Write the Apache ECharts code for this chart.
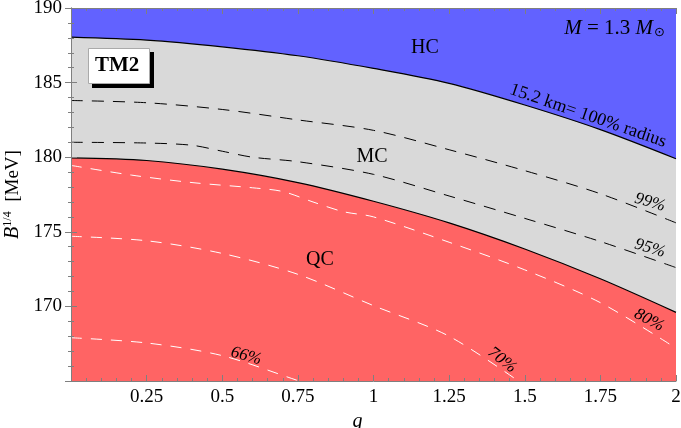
<!DOCTYPE html>
<html><head><meta charset="utf-8">
<script src="https://cdn.jsdelivr.net/npm/echarts@6/dist/echarts.min.js"></script>
<style>html,body{margin:0;padding:0;background:#fff}#c{width:681px;height:428px}</style>
</head><body><div id="c"></div>
<script>
// ---- data ----
const gTicks = [0.25, 0.5, 0.75, 1, 1.25, 1.5, 1.75, 2];
const bTicks = [170, 175, 180, 185, 190];

const hcBoundaryG = [0, 0.25, 0.5, 0.75, 1, 1.25, 1.5, 1.75, 2];
const hcBoundaryB = [188.05, 187.85, 187.4, 186.8, 185.95, 184.95, 183.5, 181.85, 179.9];

const qcBoundaryG = [0, 0.25, 0.5, 0.75, 1, 1.25, 1.5, 1.75, 2];
const qcBoundaryB = [179.95, 179.78, 179.2, 178.3, 177.05, 175.6, 173.85, 171.85, 169.6];

const c99G = [0, 0.25, 0.5, 0.75, 1, 1.25, 1.5, 1.75, 2];
const c99B = [183.8, 183.65, 183.2, 182.5, 181.8, 180.5, 179.1, 177.55, 175.6];

const c95G = [0, 0.25, 0.4, 0.5, 0.6, 0.75, 1, 1.25, 1.5, 1.75, 2];
const c95B = [181.0, 180.95, 180.8, 180.4, 180.0, 179.7, 178.85, 177.4, 175.9, 174.35, 172.6];

const c80G = [0, 0.2, 0.4, 0.6, 0.7, 0.8, 0.9, 1, 1.25, 1.5, 1.75, 2];
const c80B = [179.45, 178.8, 178.3, 177.95, 177.7, 177.0, 176.35, 176.0, 174.3, 172.45, 170.25, 167.2];

const c70G = [0, 0.25, 0.5, 0.75, 1, 1.25, 1.5];
const c70B = [174.7, 174.4, 173.55, 172.15, 170.05, 168.0, 164.7];

const c66G = [0, 0.25, 0.5, 0.75, 0.8];
const c66B = [167.9, 167.55, 166.7, 165.03, 164.7];

// annotation texts and their anchor positions (data coords) + rotation
const noteText = ['HC', 'MC', 'QC', '15.2 km= 100% radius', '99%', '95%', '80%', '70%', '66%'];
const noteG    = [1.17, 0.995, 0.823, 1.709, 1.914, 1.914, 1.911, 1.425, 0.579];
const noteB    = [187.33, 180.04, 173.16, 182.78, 176.97, 173.89, 169.08, 166.4, 166.67];
const noteRot  = [0, 0, 0, -19, -17, -17, -28, -38, -15];

const BLUE = '#6262ff', GRAY = '#d9d9d9', RED = '#ff6464';
const SERIF = '"Liberation Serif","DejaVu Serif",serif';

function pairs(g, b) { return g.map((v, i) => [v, b[i]]); }

const noteData = noteText.map((t, i) => {
  const big = i < 3;
  const italic = i >= 4;
  return {
    coord: [noteG[i], noteB[i]],
    symbol: 'circle', symbolSize: 0,
    label: {
      show: true, position: 'inside', formatter: t,
      rotate: noteRot[i],
      fontFamily: SERIF, fontSize: big ? 20 : (i === 3 ? 18 : 17),
      fontStyle: italic ? 'italic' : 'normal',
      color: '#000'
    }
  };
});

const chart = echarts.init(document.getElementById('c'), null, {renderer: 'canvas'});
const axisGray = '#7f7f7f';
function frameAxis(extra) {
  return Object.assign({
    z: 10,
    axisLine: {show: true, lineStyle: {color: axisGray, width: 1}},
    axisTick: {show: true, inside: true, length: 6, lineStyle: {color: axisGray}},
    minorTick: {show: true, splitNumber: 5, length: 3, lineStyle: {color: axisGray}},
    splitLine: {show: false}
  }, extra);
}
chart.setOption({
  animation: false,
  grid: {left: 71, right: 5, top: 8, bottom: 47, show: true, backgroundColor: BLUE, borderWidth: 0,
         containLabel: false, outerBoundsMode: 'none'},
  xAxis: [frameAxis({
    type: 'value', min: 0, max: 2, interval: 0.25,
    name: 'g', nameLocation: 'middle', nameGap: 30,
    nameTextStyle: {fontFamily: SERIF, fontStyle: 'italic', fontSize: 20, color: '#000', padding: [0, 32, 0, 0]},
    axisLabel: {fontFamily: SERIF, fontSize: 19, color: '#000', margin: 7,
      formatter: v => gTicks.indexOf(v) >= 0 ? String(v) : ''}
  }), frameAxis({
    type: 'value', min: 0, max: 2, interval: 0.25, position: 'top',
    axisLabel: {show: true, color: 'rgba(0,0,0,0)', fontSize: 19, formatter: v => String(v)}
  })],
  yAxis: [frameAxis({
    type: 'value', min: 165, max: 190, interval: 5,
    name: '{i|B}{s|1/4}  [MeV]', nameLocation: 'middle', nameGap: 45, nameRotate: 90,
    nameTextStyle: {fontFamily: SERIF, fontSize: 19, color: '#000',
      rich: {i: {fontFamily: SERIF, fontStyle: 'italic', fontSize: 20, color: '#000'},
             s: {fontFamily: SERIF, fontSize: 12, color: '#000', verticalAlign: 'top', padding: [0,0,10,0]}}},
    axisLabel: {fontFamily: SERIF, fontSize: 19, color: '#000', margin: 9,
      formatter: v => bTicks.indexOf(v) >= 0 ? String(v) : ''}
  }), frameAxis({
    type: 'value', min: 165, max: 190, interval: 5, position: 'right',
    axisLabel: {show: true, color: 'rgba(0,0,0,0)', fontSize: 19, formatter: v => String(v)}
  })],
  series: [
    {type: 'line', name: 'HC/MC', data: pairs(hcBoundaryG, hcBoundaryB), smooth: 0.3, symbol: 'none',
     lineStyle: {color: '#000', width: 1.2}, areaStyle: {color: GRAY, opacity: 1, origin: 'start'}, z: 2},
    {type: 'line', name: 'MC/QC', data: pairs(qcBoundaryG, qcBoundaryB), smooth: 0.3, symbol: 'none',
     lineStyle: {color: '#000', width: 1.2}, areaStyle: {color: RED, opacity: 1, origin: 'start'}, z: 3},
    {type: 'line', name: '99%', data: pairs(c99G, c99B), smooth: 0.3, symbol: 'none',
     lineStyle: {color: '#000', width: 1, type: [12, 9]}, z: 4},
    {type: 'line', name: '95%', data: pairs(c95G, c95B), smooth: 0.3, symbol: 'none',
     lineStyle: {color: '#000', width: 1, type: [12, 9]}, z: 4},
    {type: 'line', name: '80%', data: pairs(c80G, c80B), smooth: 0.3, symbol: 'none',
     lineStyle: {color: '#fff', width: 1, type: [11, 9]}, z: 4},
    {type: 'line', name: '70%', data: pairs(c70G, c70B), smooth: 0.3, symbol: 'none',
     lineStyle: {color: '#fff', width: 1, type: [11, 9]}, z: 4},
    {type: 'line', name: '66%', data: pairs(c66G, c66B), smooth: 0.3, symbol: 'none',
     lineStyle: {color: '#fff', width: 1, type: [11, 9]}, z: 4,
     markPoint: {data: noteData, silent: true}}
  ],
  graphic: [
    {type: 'rect', left: 92, top: 52, shape: {width: 62, height: 36}, style: {fill: '#000'}, z: 100},
    {type: 'rect', left: 88, top: 48, shape: {width: 61, height: 35}, style: {fill: '#fff', stroke: '#aaa', lineWidth: 1}, z: 101},
    {type: 'text', left: 95, top: 55, style: {text: 'TM2', fontFamily: SERIF, fontWeight: 'bold', fontSize: 21, fill: '#000'}, z: 102},
    {type: 'text', right: 16, top: 18, style: {
      text: '{m|M} = 1.3 {m|M}{o|\u2299}', fontFamily: SERIF, fontSize: 21, fill: '#000',
      rich: {m: {fontFamily: SERIF, fontStyle: 'italic', fontSize: 21, fill: '#000'},
             o: {fontFamily: 'DejaVu Sans', fontSize: 13, fill: '#000', padding: [8, 0, 0, 1]}}}, z: 102}
  ]
});
</script></body></html>
